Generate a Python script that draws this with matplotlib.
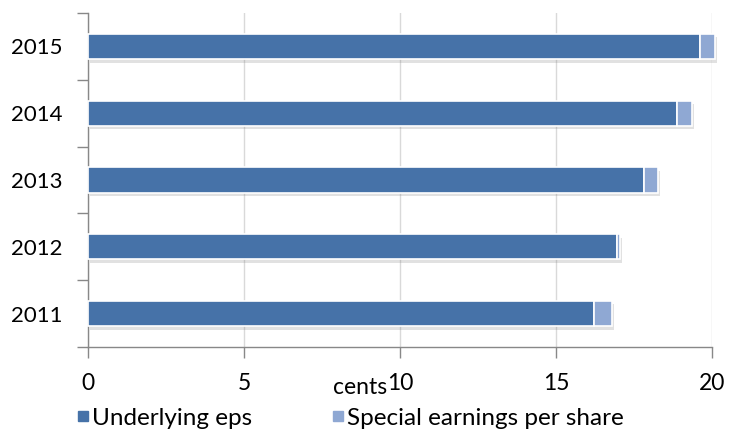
import matplotlib
matplotlib.use("Agg")
import matplotlib.pyplot as plt
import matplotlib.patheffects as pe
from matplotlib.lines import Line2D
import numpy as np

years = ["2011", "2012", "2013", "2014", "2015"]
underlying = [16.22, 16.94, 17.83, 18.87, 19.6]
special = [0.58, 0.11, 0.45, 0.48, 0.5]
xticks = [0, 5, 10, 15, 20]

plt.rcParams['font.family'] = ['Lato', 'DejaVu Sans']

fig = plt.figure(figsize=(7.3, 4.33), dpi=100)
ax = fig.add_axes([88/730, 1 - 347/433, 624/730, (347-13)/433])

c1 = "#4672A8"
c2 = "#8FA8D3"
y = np.arange(len(years))
shadow = [pe.SimplePatchShadow(offset=(1.5, -2.5), shadow_rgbFace="#888888", alpha=0.25), pe.Normal()]
b1 = ax.barh(y, underlying, height=0.38, color=c1, edgecolor="white", linewidth=1.2, zorder=3, clip_on=False)
b2 = ax.barh(y, special, left=underlying, height=0.38, color=c2, edgecolor="white", linewidth=1.2, zorder=3, clip_on=False)
for b in list(b1) + list(b2):
    b.set_path_effects(shadow)

ax.set_xlim(0, 20)
ax.set_ylim(-0.5, 4.5)
ax.set_xticks(xticks)
ax.set_xticklabels([str(v) for v in xticks])
ax.set_yticks(y)
ax.set_yticklabels(years)
ax.set_yticks(np.arange(-0.5, 5, 1), minor=True)
ax.tick_params(axis='y', which='major', length=0, pad=18, labelsize=16)
ax.tick_params(axis='y', which='minor', length=8, color="#888888", width=1)
ax.tick_params(axis='x', length=8, color="#888888", width=1, pad=11, labelsize=16.5)

for s in ["top", "right"]:
    ax.spines[s].set_visible(False)
for s in ["left", "bottom"]:
    ax.spines[s].set_color("#888888")
    ax.spines[s].set_linewidth(1)

ax.grid(axis='x', color="#D9D9D9", linewidth=1, zorder=0)
ax.set_axisbelow(True)

ax.set_xlabel("cents", fontsize=16.5)
ax.xaxis.label.set_va('center')
ax.xaxis.set_label_coords((360-88)/624, (347-387)/334)

handles = [Line2D([], [], marker='s', linestyle='none', markersize=7, color=c1),
           Line2D([], [], marker='s', linestyle='none', markersize=7, color=c2)]
fig.legend(handles, ["Underlying eps", "Special earnings per share"], loc='center left',
           bbox_to_anchor=(73/730, 1 - 418/433), ncol=2, frameon=False, fontsize=17.5,
           handletextpad=0.0, columnspacing=3.1, handlelength=0.8, borderpad=0, borderaxespad=0)

fig.savefig("out.png", dpi=100)
